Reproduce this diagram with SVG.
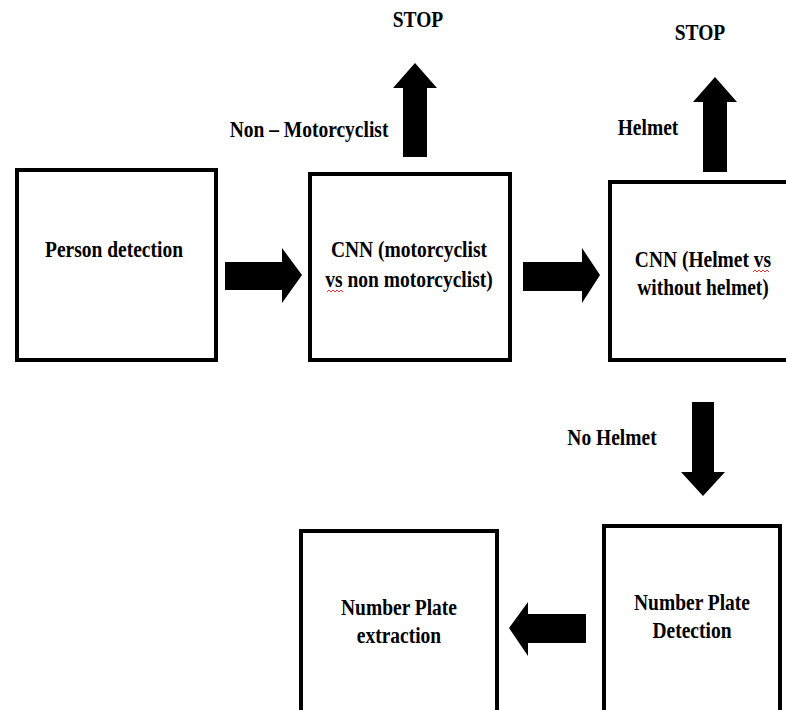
<svg xmlns="http://www.w3.org/2000/svg" width="786" height="710" viewBox="0 0 786 710">
<style>
.box{fill:#fff;stroke:#000;stroke-width:4}
.t{font-family:"Liberation Serif","Times New Roman",serif;font-weight:bold;font-size:19.5px;fill:#000;text-anchor:middle}
.arr{fill:#000}
.sq{fill:none;stroke:#e03030;stroke-width:1}
</style>
<rect width="786" height="710" fill="#fff"/>
<g id="person-detection">
<rect class="box" x="17" y="170" width="199" height="190"/>
<text class="t" transform="translate(114,257) scale(1,1.15)">Person detection</text>
</g>
<g id="cnn-motorcyclist">
<rect class="box" x="310" y="174" width="200" height="186"/>
<text class="t" transform="translate(409,257) scale(1,1.15)">CNN (motorcyclist</text>
<text class="t" transform="translate(409,287) scale(1,1.15)">vs non motorcyclist)</text>
<path class="sq" d="M327,292 l2,-2 2,2 2,-2 2,2 2,-2 2,2 2,-2 2,2"/>
</g>
<g id="cnn-helmet">
<rect class="box" x="610" y="182" width="200" height="178"/>
<text class="t" transform="translate(703,267) scale(1,1.15)">CNN (Helmet vs</text>
<text class="t" transform="translate(703,295) scale(1,1.15)">without helmet)</text>
<path class="sq" d="M753,272 l2,-2 2,2 2,-2 2,2 2,-2 2,2 2,-2 2,2"/>
</g>
<g id="number-plate-detection">
<rect class="box" x="604" y="526" width="176" height="200"/>
<text class="t" transform="translate(692,610) scale(1,1.15)">Number Plate</text>
<text class="t" transform="translate(692,638) scale(1,1.15)">Detection</text>
</g>
<g id="number-plate-extraction">
<rect class="box" x="301" y="531" width="196" height="200"/>
<text class="t" transform="translate(399,615) scale(1,1.15)">Number Plate</text>
<text class="t" transform="translate(399,643) scale(1,1.15)">extraction</text>
</g>
<g id="connectors">
<polygon class="arr" points="225,262 282,262 282,248 302,275 282,303 282,290 225,290"/>
<polygon class="arr" points="523,262 582,262 582,248 600,275 582,303 582,291 523,291"/>
<polygon class="arr" points="403,157 403,88 393,88 415,63 437,88 427,88 427,157"/>
<polygon class="arr" points="703,172 703,102 693,102 715,77 737,102 727,102 727,172"/>
<polygon class="arr" points="692,402 714,402 714,472 725,472 703,496 681,472 692,472"/>
<polygon class="arr" points="586,614 528,614 528,602 509,628 528,656 528,643 586,643"/>
<text class="t" transform="translate(418,27) scale(1,1.15)">STOP</text>
<text class="t" transform="translate(700,40) scale(1,1.15)">STOP</text>
<text class="t" transform="translate(309,137) scale(1,1.15)">Non – Motorcyclist</text>
<text class="t" transform="translate(648,135) scale(1,1.15)">Helmet</text>
<text class="t" transform="translate(612,445) scale(1,1.15)">No Helmet</text>
</g>
</svg>
